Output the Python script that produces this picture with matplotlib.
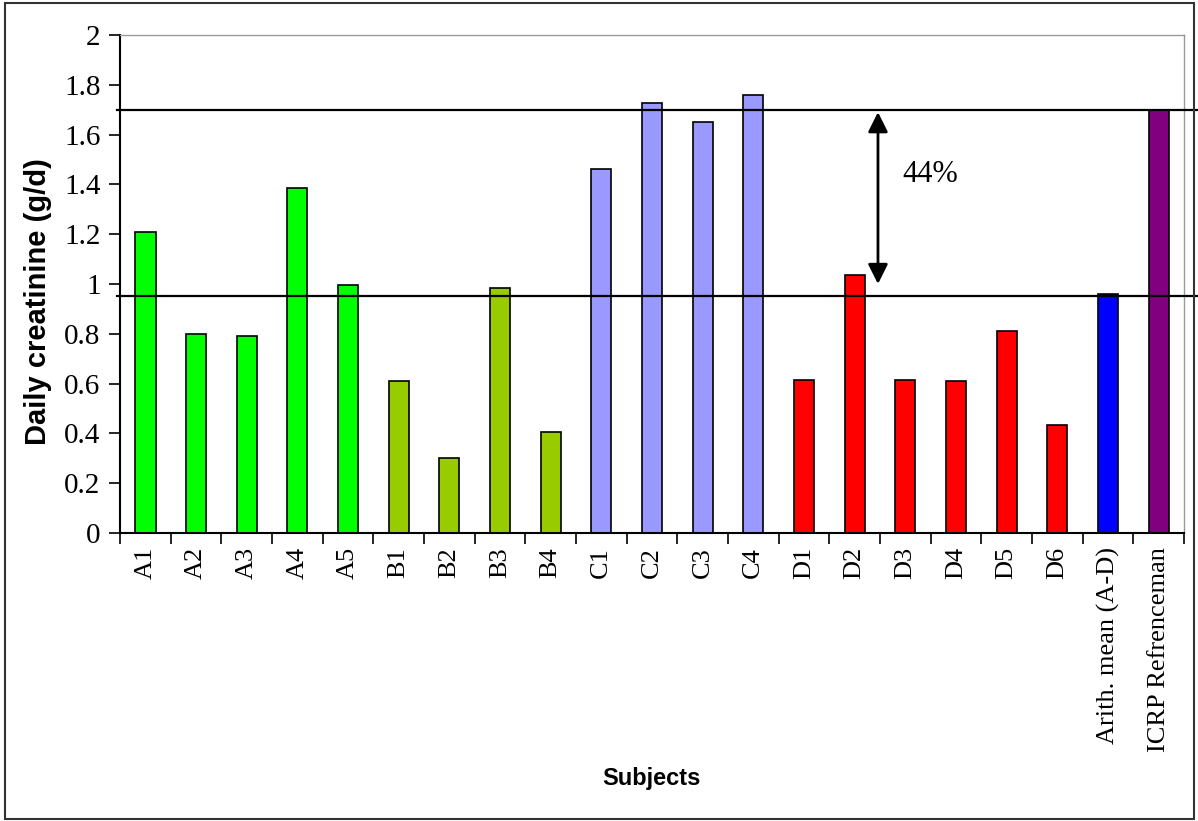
import numpy as np
import matplotlib
matplotlib.use("Agg")
import matplotlib.pyplot as plt
from matplotlib.patches import Rectangle

# data
subjects = ["A1", "A2", "A3", "A4", "A5",
            "B1", "B2", "B3", "B4",
            "C1", "C2", "C3", "C4",
            "D1", "D2", "D3", "D4", "D5", "D6",
            "Arith. mean (A-D)", "ICRP Refrenceman"]
creatinine = [1.21, 0.80, 0.79, 1.385, 0.995,
              0.61, 0.30, 0.985, 0.405,
              1.46, 1.725, 1.65, 1.76,
              0.615, 1.035, 0.615, 0.61, 0.81, 0.435,
              0.96, 1.70]
groups = ["A"] * 5 + ["B"] * 4 + ["C"] * 4 + ["D"] * 6 + ["mean", "icrp"]
group_colors = {"A": "#00FF00", "B": "#99CC00", "C": "#9999FF",
                "D": "#FF0000", "mean": "#0000FF", "icrp": "#800080"}
ref_level = 1.70
mean_level = 0.95
diff_label = "44%"

fig = plt.figure(figsize=(11.98, 8.21), dpi=100)
ax = fig.add_axes([0.1002, 0.3508, 0.8881, 0.6066])

x = np.arange(len(subjects))
ax.bar(x, creatinine, width=0.4, color=[group_colors[g] for g in groups],
       edgecolor="black", linewidth=1.2, zorder=2)

ax.set_xlim(-0.5, len(subjects) - 0.5)
ax.set_ylim(0, 2)
ax.set_yticks(np.arange(0, 2.01, 0.2))
ax.set_yticklabels(["0", "0.2", "0.4", "0.6", "0.8", "1", "1.2", "1.4", "1.6", "1.8", "2"],
                   fontfamily="Liberation Serif", fontsize=21)
ax.set_xticks(x)
ax.set_xticklabels(subjects, rotation=90, fontfamily="Liberation Serif", fontsize=19)
ax.set_xticks(np.arange(-0.5, len(subjects), 1), minor=True)
ax.tick_params(axis="x", which="major", length=0, pad=10)
ax.tick_params(axis="x", which="minor", length=8, width=1.2, direction="out")
ax.tick_params(axis="y", length=8, width=1.2, direction="out", pad=6)

for s in ["left", "bottom"]:
    ax.spines[s].set_linewidth(1.5)
for s in ["top", "right"]:
    ax.spines[s].set_color("#999999")
    ax.spines[s].set_linewidth(1.0)

# reference lines running out to the frame
for lvl in [ref_level, mean_level]:
    ax.axhline(lvl, xmin=-0.003, xmax=1.012, color="black", lw=1.6,
               clip_on=False, zorder=3)

ax.annotate("", xy=(14.46, 1.69), xytext=(14.46, 1.0),
            arrowprops=dict(arrowstyle="<|-|>", color="black", lw=2,
                            mutation_scale=30, shrinkA=0, shrinkB=0))
ax.text(14.95, 1.44, diff_label, fontfamily="Liberation Serif", fontsize=22,
        va="center", ha="left")

ax.set_ylabel("Daily creatinine (g/d)", fontfamily="Liberation Sans",
              fontweight="bold", fontsize=21)
ax.yaxis.set_label_coords(-0.064, 0.464)
fig.text(0.544, 0.052, "Subjects", fontfamily="Liberation Sans",
         fontweight="bold", fontsize=17, ha="center", va="center")

fig.patches.append(Rectangle((0.004, 0.003), 0.993, 0.993, transform=fig.transFigure,
                             fill=False, edgecolor="#333333", lw=1.5))

fig.savefig("out.png", dpi=100)
